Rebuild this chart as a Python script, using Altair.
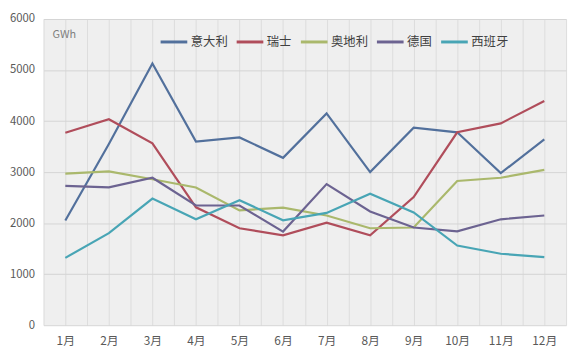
import altair as alt
import pandas as pd

months = ["1月", "2月", "3月", "4月", "5月", "6月", "7月", "8月", "9月", "10月", "11月", "12月"]
series_names = ["意大利", "瑞士", "奥地利", "德国", "西班牙"]
italy = [2050, 3550, 5130, 3600, 3680, 3280, 4150, 3000, 3870, 3780, 2980, 3640]
switzerland = [3770, 4035, 3565, 2310, 1900, 1760, 2010, 1760, 2510, 3780, 3955, 4395]
austria = [2970, 3015, 2860, 2700, 2250, 2305, 2150, 1900, 1915, 2825, 2890, 3045]
germany = [2730, 2700, 2890, 2345, 2345, 1835, 2765, 2230, 1915, 1840, 2075, 2150]
spain = [1320, 1805, 2480, 2075, 2450, 2055, 2200, 2575, 2210, 1560, 1400, 1335]
colors = ["#52709c", "#b04d5b", "#aab86c", "#6c6391", "#48a5b5"]
y_ticks = [0, 1000, 2000, 3000, 4000, 5000, 6000]

values = [italy, switzerland, austria, germany, spain]
rows = []
for name, vals in zip(series_names, values):
    for i, (m, v) in enumerate(zip(months, vals)):
        rows.append({"series": name, "idx": i + 1, "month": m, "value": v})
df = pd.DataFrame(rows)

grid_vals = [0.5 + 0.5 * k for k in range(25)]
label_arr = "[" + ",".join("'" + m + "'" for m in months) + "]"
label_expr = f"datum.value % 1 == 0 ? {label_arr}[datum.value - 1] : ''"

FONT = "Noto Sans CJK SC"

lines = alt.Chart(df).mark_line(strokeWidth=2.2).encode(
    x=alt.X("idx:Q", scale=alt.Scale(domain=[0.5, 12.5], nice=False, zero=False),
            axis=alt.Axis(values=grid_vals, labelExpr=label_expr, title=None,
                          grid=True, gridColor="#dcdcdc", gridWidth=1,
                          ticks=False, domain=False, labelPadding=11,
                          labelFontSize=12, labelColor="#595959", labelFont=FONT,
                          labelOverlap=False, labelFlush=False)),
    y=alt.Y("value:Q", scale=alt.Scale(domain=[0, 6000], nice=False),
            axis=alt.Axis(values=y_ticks, format="d", title=None, grid=True,
                          gridColor="#d4d4d4",
                          ticks=False, domain=False, labelPadding=9,
                          labelFontSize=11.5, labelColor="#595959", labelFont=FONT)),
    color=alt.Color("series:N", sort=series_names,
                    scale=alt.Scale(domain=series_names, range=colors),
                    legend=alt.Legend(title=None, orient="none", direction="horizontal",
                                      legendX=117, legendY=8, symbolType="stroke",
                                      symbolSize=729, symbolStrokeWidth=3,
                                      labelFontSize=12.5, labelFont=FONT,
                                      labelColor="#404040", labelOffset=2,
                                      columnPadding=2, padding=0)),
    order=alt.Order("idx:Q"),
)

unit = alt.Chart(pd.DataFrame({"t": ["GWh"]})).mark_text(
    align="left", baseline="middle", fontSize=11, color="#7f7f7f", font=FONT
).encode(x=alt.value(9), y=alt.value(16), text="t:N")

chart = alt.layer(lines, unit).properties(
    width=529, height=310,
    autosize=alt.AutoSizeParams(type="none"),
    padding={"left": 36, "top": 9, "right": 6, "bottom": 26},
    background="white",
).configure_view(fill="#efefef", stroke=None)

chart.save("out.html", embed_options={"renderer": "svg", "actions": False})
